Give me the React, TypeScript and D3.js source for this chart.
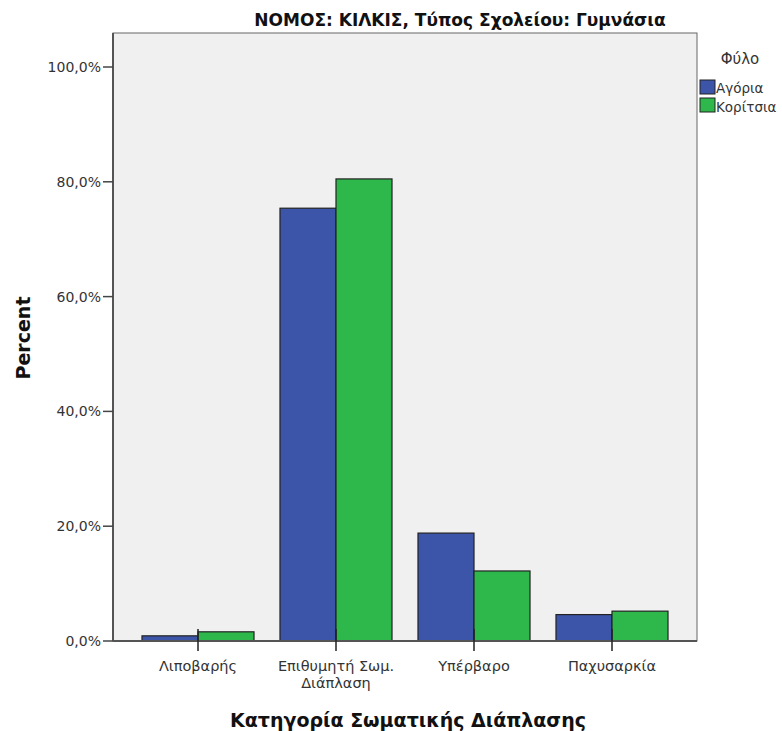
import * as d3 from "d3";

const categories = ["Λιποβαρής", "Επιθυμητή Σωμ. Διάπλαση", "Υπέρβαρο", "Παχυσαρκία"];
const categoryLines = [["Λιποβαρής"], ["Επιθυμητή Σωμ.", "Διάπλαση"], ["Υπέρβαρο"], ["Παχυσαρκία"]];
const seriesNames = ["Αγόρια", "Κορίτσια"];
const boys = [0.9, 75.4, 18.8, 4.6];
const girls = [1.6, 80.5, 12.2, 5.2];
const yTicks = [0, 20, 40, 60, 80, 100];
const colors = ["#3d55a9", "#2eb84b"];

const width = 782;
const height = 731;
const left = 113;
const right = 697;
const top = 33;
const bottom = 641;
const font = "'DejaVu Sans', Verdana, sans-serif";

export default function App() {
  const y = d3.scaleLinear().domain([0, 100]).range([bottom, 67]);
  const x = d3.scaleBand<string>().domain(categories).range([129, 681]).paddingInner(0).paddingOuter(0);
  const inner = d3.scaleBand<string>().domain(seriesNames).range([0, x.bandwidth()]).paddingInner(0).paddingOuter(0.232);
  const values = [boys, girls];
  const fmt = (v: number) => d3.format(".1f")(v).replace(".", ",") + "%";

  return (
    <svg width={width} height={height} style={{ position: "absolute", left: 0, top: 0 }}>
      <rect x={0} y={0} width={width} height={height} fill="#fff" />
      <text x={460} y={26} textAnchor="middle" fontFamily={font} fontSize={17} fontWeight="bold" fill="#111">
        ΝΟΜΟΣ: ΚΙΛΚΙΣ, Τύπος Σχολείου: Γυμνάσια
      </text>
      <rect x={left} y={top} width={right - left} height={bottom - top} fill="#f0f0f0" stroke="#666" strokeWidth={1} />
      {categories.map((c, i) =>
        seriesNames.map((s, j) => (
          <rect
            key={c + s}
            x={(x(c) ?? 0) + (inner(s) ?? 0)}
            y={y(values[j][i])}
            width={inner.bandwidth()}
            height={bottom - y(values[j][i])}
            fill={colors[j]}
            stroke="#222"
            strokeWidth={1.2}
          />
        ))
      )}
      <line x1={left} x2={left} y1={top} y2={bottom} stroke="#555" strokeWidth={2} />
      <line x1={left} x2={right} y1={bottom} y2={bottom} stroke="#555" strokeWidth={2} />
      {yTicks.map((t) => (
        <g key={t}>
          <line x1={103} x2={left} y1={y(t)} y2={y(t)} stroke="#444" strokeWidth={1.5} />
          <text x={101} y={y(t) + 5} textAnchor="end" fontFamily={font} fontSize={14} fill="#333">
            {fmt(t)}
          </text>
        </g>
      ))}
      {categories.map((c, i) => {
        const cx = (x(c) ?? 0) + x.bandwidth() / 2;
        return (
          <g key={c}>
            <line x1={cx} x2={cx} y1={bottom - 12} y2={bottom + 10} stroke="#222" strokeWidth={1.5} />
            {categoryLines[i].map((ln, k) => (
              <text key={k} x={cx} y={671 + k * 17} textAnchor="middle" fontFamily={font} fontSize={14.5} fill="#333">
                {ln}
              </text>
            ))}
          </g>
        );
      })}
      <text x={408} y={727} textAnchor="middle" fontFamily={font} fontSize={19} fontWeight="bold" fill="#111">
        Κατηγορία Σωματικής Διάπλασης
      </text>
      <text
        transform={`translate(30,338) rotate(-90)`}
        textAnchor="middle"
        fontFamily={font}
        fontSize={19}
        fontWeight="bold"
        fill="#111"
      >
        Percent
      </text>
      <text x={740} y={64} textAnchor="middle" fontFamily={font} fontSize={15} fill="#333">
        Φύλο
      </text>
      {seriesNames.map((s, j) => (
        <g key={s}>
          <rect x={700} y={80 + j * 18} width={15} height={14} fill={colors[j]} stroke="#222" strokeWidth={1} />
          <text x={716} y={93 + j * 19} fontFamily={font} fontSize={13.5} fill="#333">
            {s}
          </text>
        </g>
      ))}
    </svg>
  );
}
